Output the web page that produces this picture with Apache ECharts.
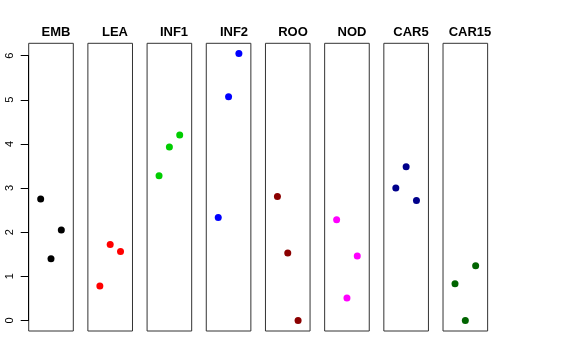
<!DOCTYPE html>
<html><head><meta charset="utf-8">
<script src="https://cdn.jsdelivr.net/npm/echarts@6/dist/echarts.min.js"></script>
<style>html,body{margin:0;padding:0;background:#fff}#c{width:576px;height:360px}</style>
</head><body><div id="c"></div>
<script>
var panels = ["EMB","LEA","INF1","INF2","ROO","NOD","CAR5","CAR15"];
var colors = ["#000000","#FF0000","#00CD00","#0000FF","#8B0000","#FF00FF","#00008B","#006400"];
var xPos = [1, 2, 3];
var EMB = [2.75, 1.40, 2.05];
var LEA = [0.78, 1.72, 1.56];
var INF1 = [3.28, 3.93, 4.20];
var INF2 = [2.33, 5.07, 6.05];
var ROO = [2.81, 1.53, 0.00];
var NOD = [2.28, 0.51, 1.46];
var CAR5 = [3.00, 3.48, 2.72];
var CAR15 = [0.83, 0.00, 1.24];
var yMinTick = 0, yMaxTick = 6, yStep = 1;
var values = [EMB, LEA, INF1, INF2, ROO, NOD, CAR5, CAR15];

var chart = echarts.init(document.getElementById('c'), null, {renderer:'canvas'});
var grids = [], xAxes = [], yAxes = [], series = [], titles = [];
var gLeft0 = 28.7, gPitch = 59.19, gW = 44.6, gTop = 43.3, gH = 287.7;
var yLo = -0.24, yHi = 6.28;
for (var i = 0; i < panels.length; i++) {
  var L = gLeft0 + i * gPitch;
  grids.push({left: L, top: gTop, width: gW, height: gH, show: true, borderColor: '#333', borderWidth: 1});
  xAxes.push({type: 'value', gridIndex: i, min: -0.16, max: 4.16, show: false});
  yAxes.push({type: 'value', gridIndex: i, min: yLo, max: yHi, show: false});
  series.push({
    type: 'scatter', xAxisIndex: i, yAxisIndex: i, symbol: 'circle', symbolSize: 7,
    itemStyle: {color: colors[i], opacity: 1},
    data: xPos.map(function (x, k) { return [x, values[i][k]]; }),
    silent: true
  });
  titles.push({
    text: panels[i], left: Math.round(L + gW / 2), top: 21, textAlign: 'center',
    textStyle: {fontSize: 13, fontWeight: 'bold', color: '#000', fontFamily: 'Liberation Sans, Arial, sans-serif'}
  });
}
// axis-only overlay grid spanning exactly 0..6 on the first panel
var pxPerUnit = gH / (yHi - yLo);
var axTop = gTop + (yHi - yMaxTick) * pxPerUnit;
var axH = (yMaxTick - yMinTick) * pxPerUnit;
grids.push({left: gLeft0, top: axTop, width: gW, height: axH, show: false});
xAxes.push({type: 'value', gridIndex: 8, min: 0, max: 1, show: false});
yAxes.push({
  type: 'value', gridIndex: 8, min: yMinTick, max: yMaxTick, interval: yStep,
  splitLine: {show: false},
  axisLine: {show: true, onZero: false, lineStyle: {color: '#000', width: 1}},
  axisTick: {show: true, length: 8, lineStyle: {color: '#000'}},
  axisLabel: {show: true, rotate: 90, margin: 13, color: '#000', fontSize: 11,
    fontFamily: 'Liberation Sans, Arial, sans-serif'}
});
chart.setOption({
  animation: false,
  title: titles,
  grid: grids,
  xAxis: xAxes,
  yAxis: yAxes,
  series: series
});
</script></body></html>
